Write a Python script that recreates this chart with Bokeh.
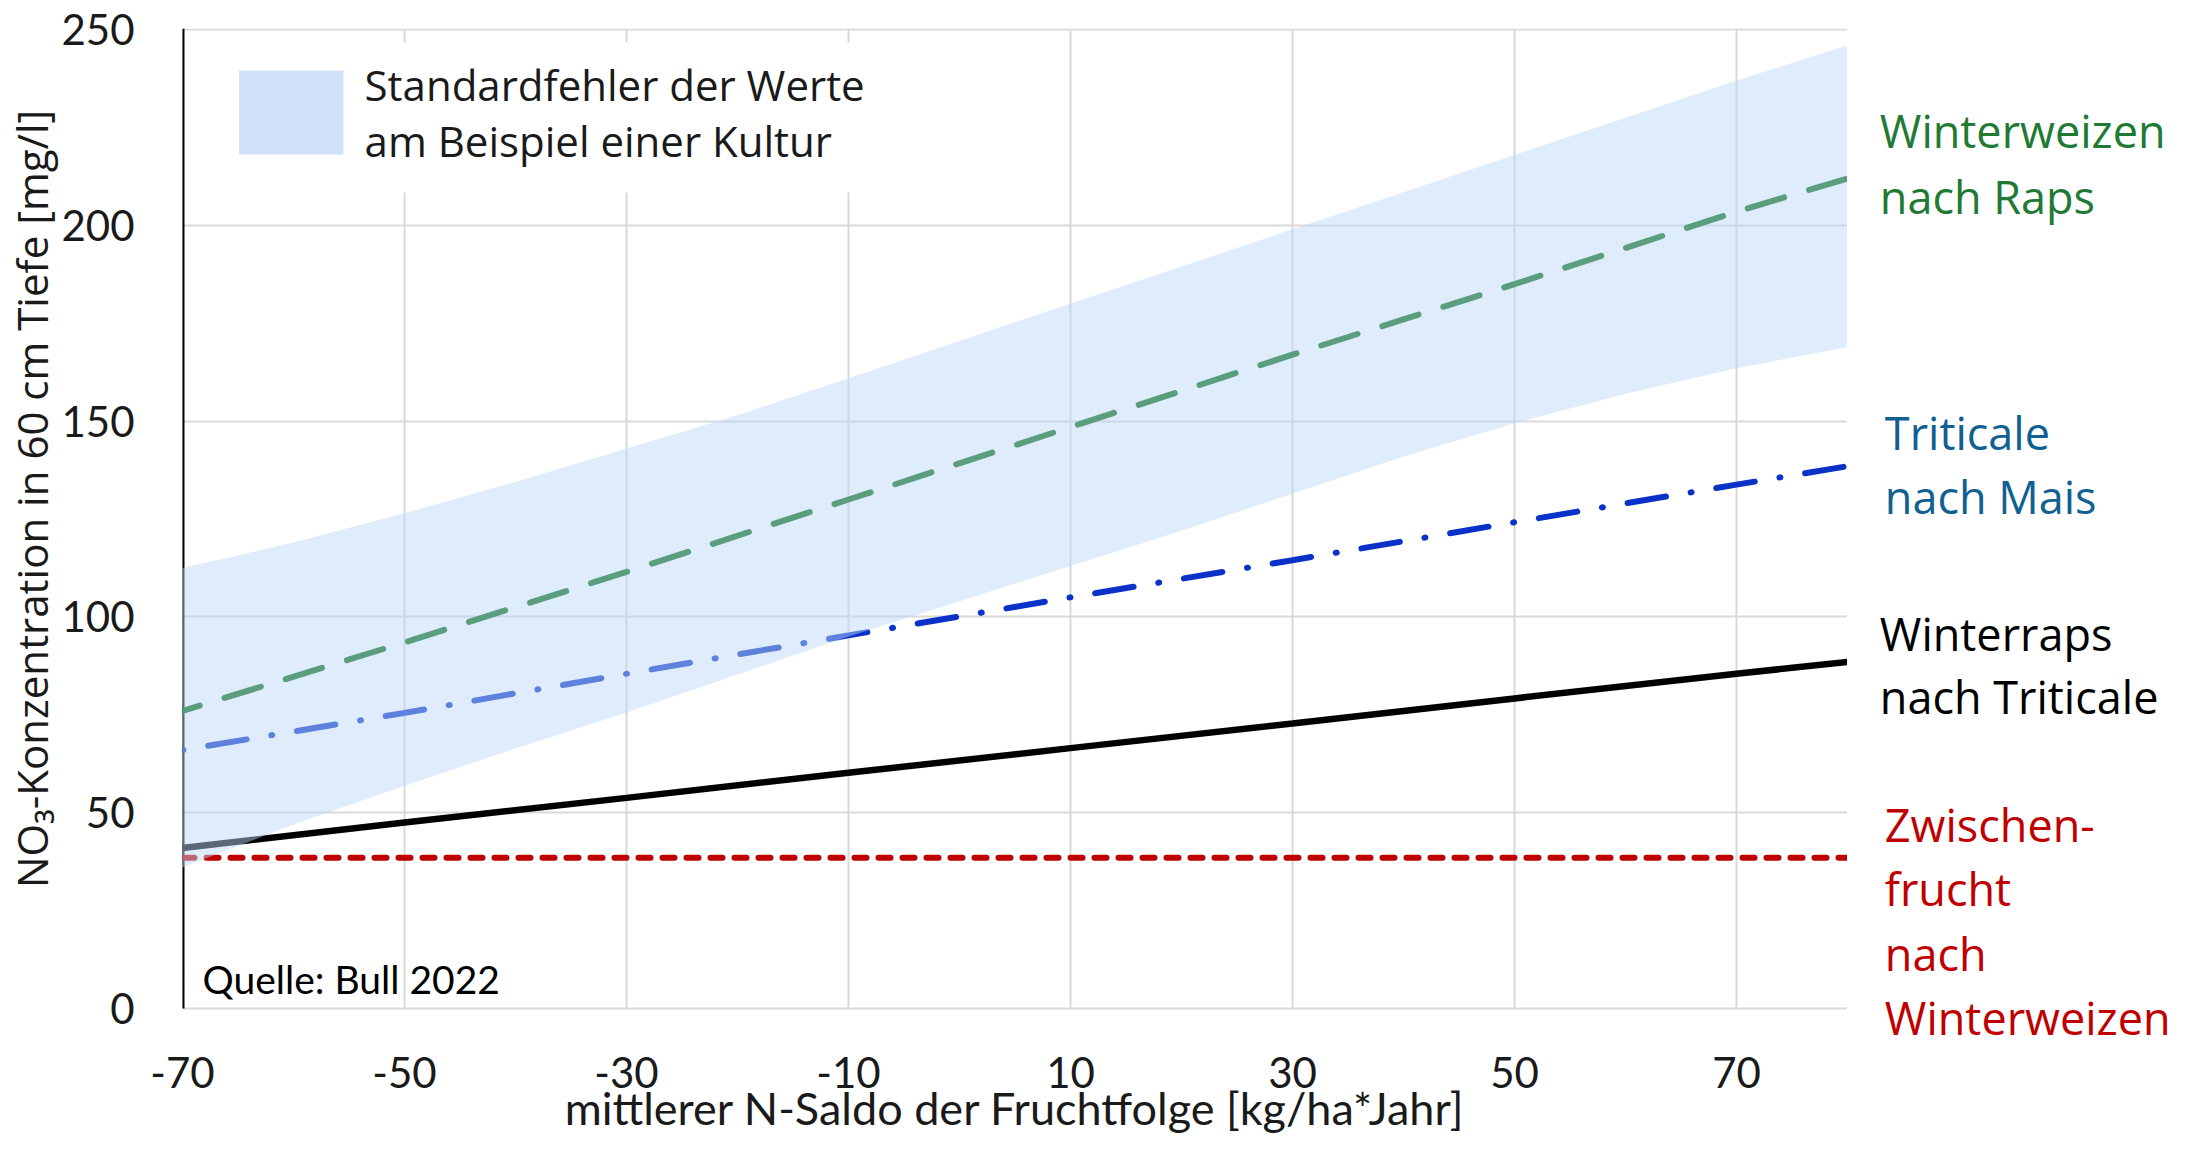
from bokeh.plotting import figure
from bokeh.models import Range1d, FixedTicker, Label, BoxAnnotation
from bokeh.layouts import row
from bokeh.embed import file_html
from bokeh.resources import INLINE

# ---- data ----
x_ticks = [-70, -50, -30, -10, 10, 30, 50, 70]
x_tick_labels = ["-70", "-50", "-30", "-10", "10", "30", "50", "70"]
y_ticks = [0, 50, 100, 150, 200, 250]
y_tick_labels = ["0", "50", "100", "150", "200", "250"]

band_x = [-70, -60, -50, -40, -30, -20, -10, 0, 10, 20, 30, 40, 50, 60, 70, 80]
band_upper = [112.5, 119, 126.5, 134.5, 143, 151.5, 161, 170.5, 180, 189.5, 199, 208.5, 218, 227.5, 237, 246]
band_lower = [36, 47, 56.9, 66.4, 75.6, 85.3, 95, 104, 113, 122, 131.5, 141, 149.5, 157, 163.5, 169]

line_x = [-70, -50, -30, -10, 10, 30, 50, 70, 80]
ww_raps = [76, 93.5, 111.5, 130, 148.5, 167, 185, 203.5, 212]
trit_mais = [66, 75.5, 85.5, 95.3, 105, 114.5, 124.2, 133.8, 138.5]
wr_trit = [41, 47.5, 53.8, 60.2, 66.5, 72.8, 79.2, 85.5, 88.5]
zw_x = [-70, 80]
zw_ww = [38.5, 38.5]

series_names = [["Winterweizen", "nach Raps"],
                ["Triticale", "nach Mais"],
                ["Winterraps", "nach Triticale"],
                ["Zwischen-", "frucht", "nach", "Winterweizen"]]
legend_lines = ["Standardfehler der Werte", "am Beispiel einer Kultur"]
source_text = "Quelle: Bull 2022"
x_title = "mittlerer N-Saldo der Fruchtfolge [kg/ha*Jahr]"
y_title = "NO\u2083-Konzentration in 60 cm Tiefe [mg/l]"

# ---- layout geometry ----
X0, X1 = -70, 80
Y_TOP = 250.3
FRAME_W = 1672
PLOT_H = 980            # pixels from y=Y_TOP down to y=0
BELOW0 = 48             # extra frame pixels below y=0 (room for the lowest side label)
BORDER_L, BORDER_T, BORDER_B = 175, 28, 82
RIGHT_W = 327
HEIGHT = BORDER_T + PLOT_H + BELOW0 + BORDER_B
px_x = FRAME_W / (X1 - X0)
px_y = PLOT_H / Y_TOP
Y_BOT = -BELOW0 / px_y
yr = Range1d(Y_BOT, Y_TOP)

p = figure(width=BORDER_L + FRAME_W, height=HEIGHT,
           output_backend="svg", toolbar_location=None,
           x_range=Range1d(X0, X1), y_range=yr,
           min_border_left=BORDER_L, min_border_right=0,
           min_border_top=BORDER_T, min_border_bottom=BORDER_B)
p.outline_line_color = None
p.background_fill_color = "white"

p.xaxis.ticker = FixedTicker(ticks=x_ticks)
p.yaxis.ticker = FixedTicker(ticks=y_ticks)
p.xaxis.major_label_overrides = dict(zip(x_ticks, x_tick_labels))
p.yaxis.major_label_overrides = dict(zip(y_ticks, y_tick_labels))

for ax in (p.xaxis, p.yaxis):
    ax.major_tick_line_color = None
    ax.minor_tick_line_color = None
    ax.axis_line_color = None
    ax.major_label_text_font = "Lato"
    ax.major_label_text_font_size = "42px"
    ax.major_label_text_color = "#1a1a1a"
    ax.axis_label_text_font_style = "normal"
    ax.axis_label_text_color = "#1a1a1a"

p.xaxis.major_label_standoff = -6
p.xaxis.axis_label = x_title
p.xaxis.axis_label_text_font = "Lato"
p.xaxis.axis_label_text_font_size = "45px"
p.xaxis.axis_label_standoff = -10

p.yaxis.major_label_standoff = 42
p.yaxis.axis_label = "\u00a0" * 8 + y_title
p.yaxis.axis_label_text_font = "Open Sans"
p.yaxis.axis_label_text_font_size = "42px"
p.yaxis.axis_label_standoff = -2

# horizontal grid from the axis; vertical grid only between 0 and the top
p.xgrid.visible = False
p.ygrid.grid_line_color = "#d9d9d9"
p.ygrid.grid_line_width = 2
p.segment(x0=x_ticks, y0=[0] * len(x_ticks), x1=x_ticks, y1=[Y_TOP] * len(x_ticks),
          line_color="#d9d9d9", line_width=2)
# y axis line (black) from 0 to the top
p.segment(x0=[X0], y0=[0], x1=[X0], y1=[Y_TOP], line_color="black", line_width=4)

# ---- lines (drawn under the translucent band) ----
p.line(line_x, wr_trit, line_color="black", line_width=6.5)
p.line(zw_x, zw_ww, line_color="#c00000", line_width=6, line_dash="12 12", line_cap="round")
p.line(line_x, trit_mais, line_color="#0a32c8", line_width=6, line_dash="39 25 1 25",
       line_dash_offset=64, line_cap="round")
p.line(line_x, ww_raps, line_color="#006a10", line_width=6, line_dash="38 26",
       line_dash_offset=20, line_cap="round")

# ---- standard-error band ----
p.varea(x=band_x, y1=band_lower, y2=band_upper, fill_color="#bcd7f7", fill_alpha=0.48)

# ---- legend (manual) ----
p.add_layout(BoxAnnotation(left=-69.5, right=-2, top=246.7, bottom=208.4,
                           fill_color="white", fill_alpha=1.0, line_color=None))
p.add_layout(BoxAnnotation(left=-64.9, right=-55.5, top=239.57, bottom=218.1,
                           fill_color="#cfe2f8", fill_alpha=1.0, line_color=None))
for txt, yy in zip(legend_lines, [236.0, 221.7]):
    p.add_layout(Label(x=-53.6, y=yy, text=txt, text_font="Open Sans", text_font_size="42px",
                       text_baseline="middle", text_align="left", text_color="#1a1a1a"))

# ---- source ----
p.add_layout(Label(x=-68.2, y=7.66, text=source_text, text_font="Lato", text_font_size="39px",
                   text_baseline="middle", text_align="left", text_color="black"))

# ---- right-hand panel with series labels (same scales, continued) ----
p2 = figure(width=RIGHT_W, height=HEIGHT,
            output_backend="svg", toolbar_location=None,
            x_range=Range1d(X1, X1 + RIGHT_W / px_x), y_range=yr,
            min_border_left=0, min_border_right=0,
            min_border_top=BORDER_T, min_border_bottom=BORDER_B,
            x_axis_location=None, y_axis_location=None)
p2.grid.visible = False
p2.outline_line_color = None
p2.background_fill_color = "white"

label_colors = ["#217a34", "#106092", "#000000", "#c00000"]
label_x = [82.9, 83.35, 82.9, 83.35]
label_y = [[224.25, 207.4], [147.1, 130.8], [95.78, 79.7], [47.0, 30.65, 14.04, -2.3]]
for names, col, lx, ys in zip(series_names, label_colors, label_x, label_y):
    for t, yy in zip(names, ys):
        p2.add_layout(Label(x=lx, y=yy, text=t, text_font="Open Sans", text_font_size="45px",
                            text_baseline="middle", text_align="left", text_color=col))

layout = row(p, p2)
open("out.html", "w").write(file_html(layout, INLINE))
